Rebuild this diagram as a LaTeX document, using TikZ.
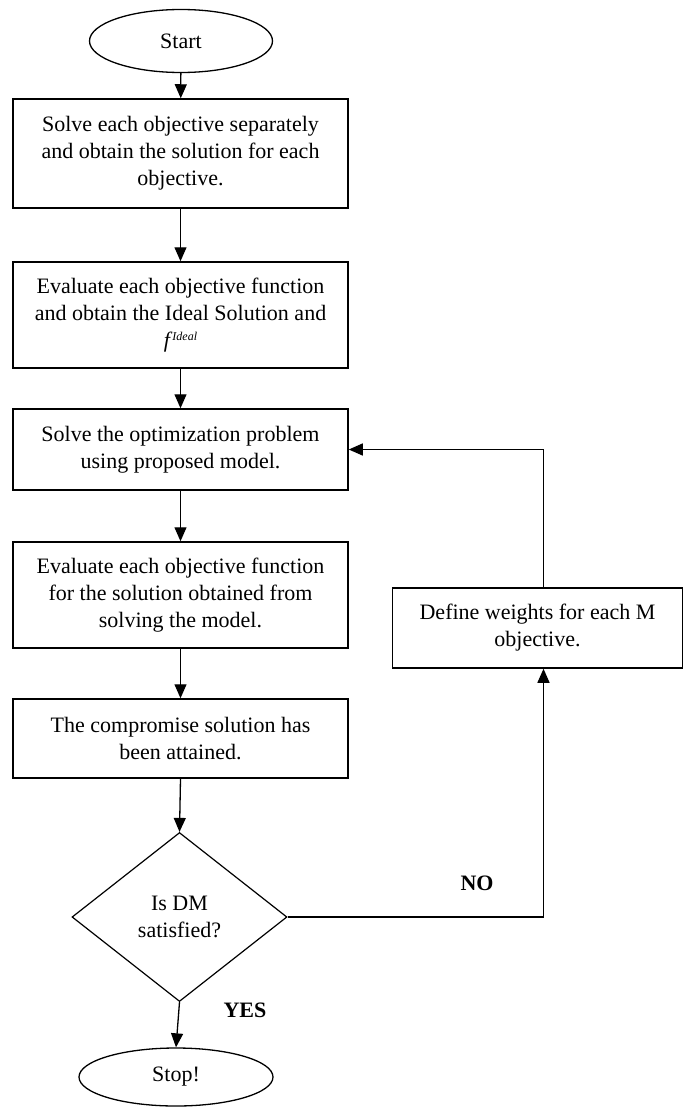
\documentclass[tikz,border=0pt]{standalone}
\usepackage{fontspec}
\setmainfont{Liberation Serif}
\usetikzlibrary{shapes.geometric,arrows.meta}
\begin{document}
\begin{tikzpicture}[x=1pt,y=-1pt,
  every node/.style={font=\fontsize{22}{27}\selectfont, align=center, inner sep=0pt},
  procbox/.style={draw, line width=1.5pt, rectangle, minimum width=335pt},
  term/.style={draw, line width=1.3pt, ellipse},
  decide/.style={draw, line width=1.2pt, diamond},
  arr/.style={line width=1.3pt, -{Triangle[length=14pt,width=12pt]}},
  lbl/.style={font=\fontsize{22}{27}\selectfont\bfseries}]
\useasboundingbox (0,0) rectangle (683,1108);
\node[term, minimum width=183pt, minimum height=63pt] (start) at (181,41) {Start};
\node[procbox, minimum height=109pt] (b1) at (180.5,153.5) {Solve each objective separately\\and obtain the solution for each\\objective.};
\node[procbox, minimum height=106pt] (b2) at (180.5,315) {Evaluate each objective function\\and obtain the Ideal Solution and\\\textit{f}\raisebox{7pt}{\fontsize{12}{12}\selectfont\textit{Ideal}}};
\node[procbox, minimum height=81pt] (b3) at (180.5,449.5) {Solve the optimization problem\\using proposed model.};
\node[procbox, minimum height=106pt] (b4) at (180.5,595) {Evaluate each objective function\\for the solution obtained from\\solving the model.};
\node[procbox, minimum height=79pt] (b5) at (180.5,738.5) {The compromise solution has\\been attained.};
\node[decide, minimum width=215pt, minimum height=169pt] (dm) at (179.5,917) {Is DM\\satisfied?};
\node[term, minimum width=194pt, minimum height=58pt] (stop) at (176,1077) {Stop!};
\node[procbox, minimum width=290pt, minimum height=80pt] (w) at (537.5,628) {Define weights for each M\\objective.};
\node[lbl] (no) at (477,883) {NO};
\node[lbl] (yes) at (245,1010) {YES};
\coordinate (lx) at (543.5,0);
\draw[arr] (start) -- (b1);
\draw[arr] (b1) -- (b2);
\draw[arr] (b2) -- (b3);
\draw[arr] (b3) -- (b4);
\draw[arr] (b4) -- (b5);
\draw[arr] (b5.south) -- (dm.north);
\draw[arr] (dm.south) -- (stop.north);
\draw[arr] (dm.east) -| (w.south -| lx);
\draw[arr] (w.north -| lx) |- (b3.east);
\end{tikzpicture}
\end{document}
